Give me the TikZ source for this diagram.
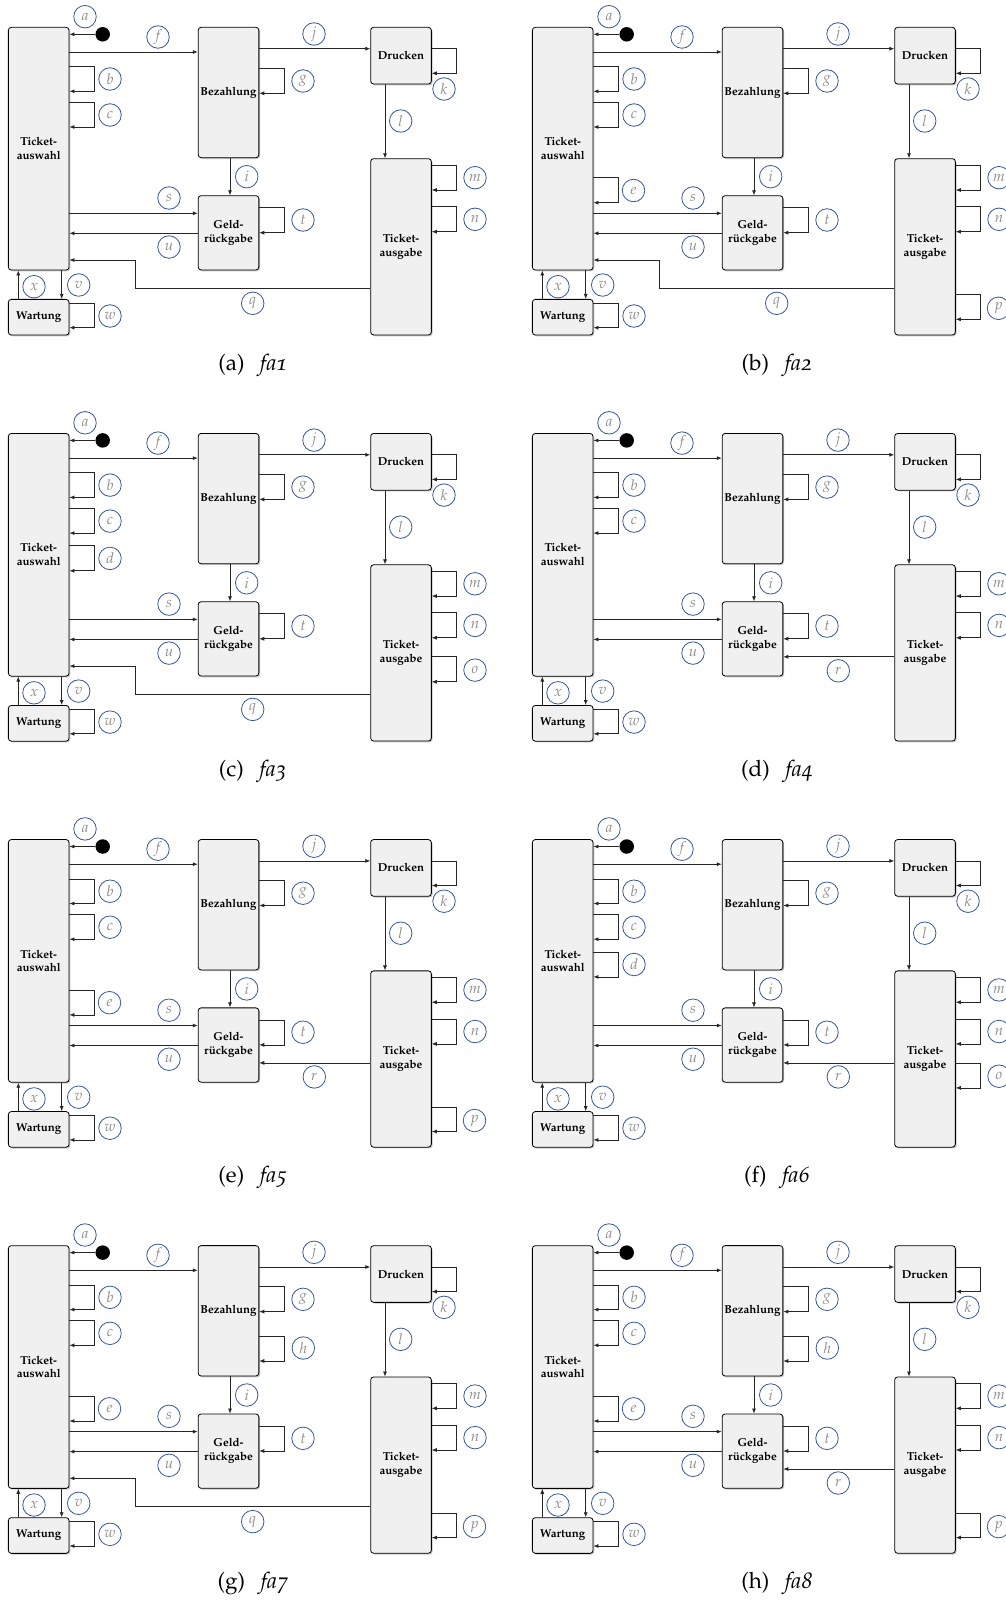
\documentclass[tikz,border=0pt]{standalone}
\usepackage[T1]{fontenc}
\usepackage[osf]{mathpazo}
\usetikzlibrary{arrows.meta,shadows,calc}
\definecolor{boxfill}{HTML}{F0F0F0}
\definecolor{lblblue}{HTML}{34589C}
\definecolor{lblgray}{HTML}{8E8E8E}
\tikzset{
  fabox/.style={draw=black, line width=0.8pt, rounded corners=3pt, fill=boxfill,
    drop shadow={shadow xshift=1.3pt, shadow yshift=-1.3pt, opacity=0.45},
    font=\fontsize{11.5}{13.7}\selectfont\bfseries, align=center, inner sep=0pt,
    minimum width=60.7pt},
  lbl/.style={circle, draw=lblblue, line width=0.8pt, minimum size=22.5pt, inner sep=0pt,
    text=lblgray, font=\fontsize{15}{15}\selectfont},
  arr/.style={-{Latex[length=5pt,width=4pt]}, line width=0.7pt, draw=black!85},
  startdot/.style={circle, fill=black, minimum size=14.5pt, inner sep=0pt},
  capt/.style={font=\fontsize{22.5}{22.5}\selectfont, inner sep=0pt}
}
% self loop on right side of a node
\newcommand{\selfloop}[6]{%
  \draw[arr] (#1.east |- 0,#2) -| (#4,#3) -- (#1.east |- 0,#3);
  \node[lbl] (#1-#5) at (#6) {$#5$};}
\newcommand{\fabase}[3]{%
  \node[fabox, minimum height=242.7pt] (#1ta) at (38.7,148.7) {Ticket-\\auswahl};
  \node[fabox, minimum height=130.4pt] (#1bz) at (228.5,92.5) {Bezahlung};
  \node[fabox, minimum height=56.7pt] (#1dr) at (401,55.7) {Drucken};
  \node[fabox, minimum height=176.3pt] (#1aus) at (401,246.8) {Ticket-\\ausgabe};
  \node[fabox, minimum height=74.3pt] (#1geld) at (228.5,232.8) {Geld-\\r\"uckgabe};
  \node[fabox, minimum height=35.7pt] (#1war) at (38.7,317.2) {Wartung};
  \node[startdot] (#1start) at (102.7,34.3) {};
  % a
  \draw[arr] (#1start) -- (#1start -| #1ta.east);
  \node[lbl] (#1la) at (85,16.7) {$a$};
  % f
  \draw[arr] (#1ta.east |- 0,52) -- (#1bz.west |- 0,52);
  \node[lbl] (#1lf) at (158,37) {$f$};
  % j
  \draw[arr] (#1bz.east |- 0,48.7) -- (#1dr.west |- 0,48.7);
  \node[lbl] (#1lj) at (314,34) {$j$};
  % l
  \draw[arr] (#1dr.south -| 385,0) -- (#1aus.north -| 385,0);
  \node[lbl] (#1ll) at (400.7,121) {$l$};
  % i
  \draw[arr] (#1bz.south -| 230,0) -- (#1geld.north -| 230,0);
  \node[lbl] (#1li) at (246.7,176.7) {$i$};
  % s
  \draw[arr] (#1ta.east |- 0,213.3) -- (#1geld.west |- 0,213.3);
  \node[lbl] (#1ls) at (169,198) {$s$};
  % u
  \draw[arr] (#1geld.west |- 0,233.3) -- (#1ta.east |- 0,233.3);
  \node[lbl] (#1lu) at (169,247) {$u$};
  % v
  \draw[arr] (#1ta.south -| 61.7,0) -- (#1war.north -| 61.7,0);
  \node[lbl] (#1lv) at (78.7,285) {$v$};
  % x
  \draw[arr] (#1war.north -| 18.3,0) -- (#1ta.south -| 18.3,0);
  \node[lbl] (#1lx) at (34,286.7) {$x$};
  % loops
  \selfloop{#1ta}{66.7}{91.3}{94.3}{b}{110,79}
  \selfloop{#1ta}{102.3}{127}{94}{c}{110,115}
  \selfloop{#1bz}{68.3}{93.3}{284.3}{g}{303,81}
  \selfloop{#1dr}{48.7}{73.3}{456}{k}{444,89}
  \selfloop{#1geld}{207.7}{232.7}{284.3}{t}{303,220}
  \selfloop{#1aus}{165}{190}{456}{m}{475,177.7}
  \selfloop{#1aus}{206.7}{231.7}{456}{n}{475,219.3}
  \selfloop{#1war}{303.3}{327.7}{94.3}{w}{110,316}
  % caption
  \node[capt] (#1cap) at (253,365) {(#2)\hspace{0.7em}\textit{#3}};
}
\newcommand{\Ld}[1]{\selfloop{#1ta}{139.7}{164.7}{94}{d}{110,152.3}}
\newcommand{\Le}[1]{\selfloop{#1ta}{177.7}{202.7}{94.3}{e}{109.5,190.5}}
\newcommand{\Lh}[1]{\selfloop{#1bz}{117.7}{142.7}{284.3}{h}{303.3,129.7}}
\newcommand{\Lo}[1]{\selfloop{#1aus}{250.7}{275.7}{456}{o}{475,264}}
\newcommand{\Lp}[1]{\selfloop{#1aus}{294.7}{319.3}{456}{p}{474.5,308.3}}
\newcommand{\Aq}[1]{%
  \draw[arr] (#1aus.west |- 0,288.3) -| (135,260) -- (#1ta.east |- 0,260);
  \node[lbl] (#1lq) at (252.7,303.3) {$q$};}
\newcommand{\Ar}[1]{%
  \draw[arr] (#1aus.west |- 0,250.7) -- (#1geld.east |- 0,250.7);
  \node[lbl] (#1lr) at (314.3,264.7) {$r$};}

\begin{document}
\begin{tikzpicture}[x=1pt,y=-1pt]
\useasboundingbox (0,0) rectangle (1006,1600);
\begin{scope}[shift={(0,0)}]
  \fabase{pa}{a}{fa1}\Aq{pa}
\end{scope}
\begin{scope}[shift={(524,0)}]
  \fabase{pb}{b}{fa2}\Le{pb}\Lp{pb}\Aq{pb}
\end{scope}
\begin{scope}[shift={(0,406.1)}]
  \fabase{pc}{c}{fa3}\Ld{pc}\Lo{pc}\Aq{pc}
\end{scope}
\begin{scope}[shift={(524,406.1)}]
  \fabase{pd}{d}{fa4}\Ar{pd}
\end{scope}
\begin{scope}[shift={(0,812.2)}]
  \fabase{pe}{e}{fa5}\Le{pe}\Lp{pe}\Ar{pe}
\end{scope}
\begin{scope}[shift={(524,812.2)}]
  \fabase{pf}{f}{fa6}\Ld{pf}\Lo{pf}\Ar{pf}
\end{scope}
\begin{scope}[shift={(0,1218.3)}]
  \fabase{pg}{g}{fa7}\Le{pg}\Lh{pg}\Lp{pg}\Aq{pg}
\end{scope}
\begin{scope}[shift={(524,1218.3)}]
  \fabase{ph}{h}{fa8}\Le{ph}\Lh{ph}\Lp{ph}\Ar{ph}
\end{scope}
\end{tikzpicture}
\end{document}
